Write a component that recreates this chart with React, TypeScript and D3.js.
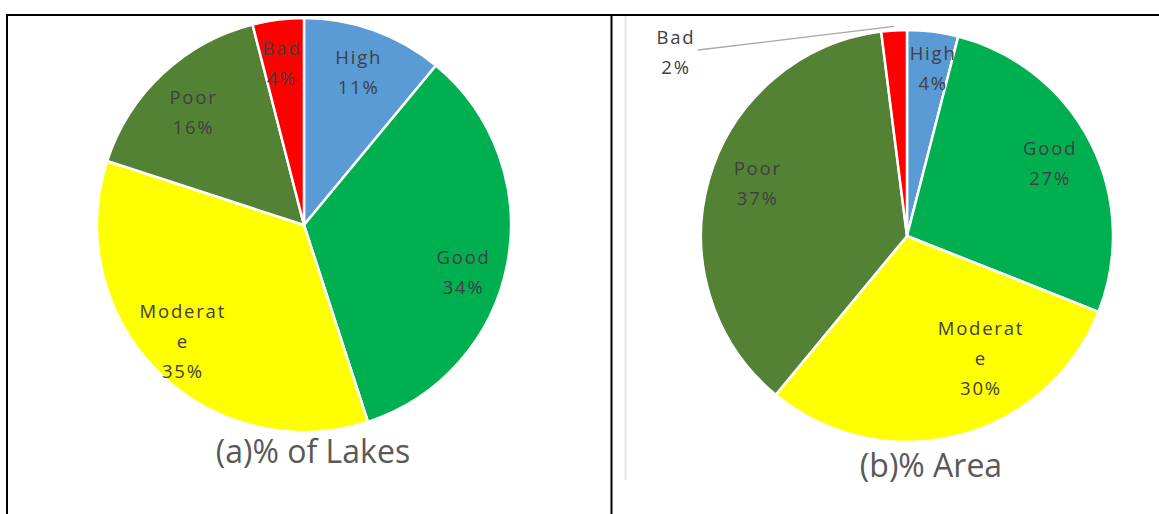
import React from "react";
import * as d3 from "d3";

const categories = ["High", "Good", "Moderate", "Poor", "Bad"];
const lakesValues = [11, 34, 35, 16, 4];
const areaValues = [4, 27, 30, 37, 2];
const colors = ["#5B9BD5", "#00B050", "#FFFF00", "#548235", "#FF0000"];
const titles = ["(a)% of Lakes", "(b)% Area"];

type ChartCfg = {
  values: number[];
  cx: number;
  cy: number;
  r: number;
  title: string;
  tx: number;
  ty: number;
  nudge: Record<string, [number, number]>;
  outside: string[];
};

const labelLines = (cat: string, v: number) =>
  cat === "Moderate" ? ["Moderat", "e", `${v}%`] : [cat, `${v}%`];

const FONT = "Open Sans, Noto Sans, sans-serif";
const LFS = 18.5;
const LSP = 1.8;

function Pie({ cfg }: { cfg: ChartCfg }) {
  const pie = d3.pie<number>().sort(null).value((d) => d);
  const arcs = pie(cfg.values);
  const arc = d3.arc<d3.PieArcDatum<number>>().innerRadius(0).outerRadius(cfg.r);
  const labelArc = d3
    .arc<d3.PieArcDatum<number>>()
    .innerRadius(cfg.r * 0.78)
    .outerRadius(cfg.r * 0.78);
  const lh = 30;
  return (
    <g>
      <g transform={`translate(${cfg.cx},${cfg.cy})`}>
        {arcs.map((a, i) => (
          <path key={i} d={arc(a) || ""} fill={colors[i]} stroke="#fff" strokeWidth={2.5} />
        ))}
        {arcs.map((a, i) => {
          const cat = categories[i];
          const lines = labelLines(cat, cfg.values[i]);
          if (cfg.outside.includes(cat)) {
            const mid = (a.startAngle + a.endAngle) / 2;
            const ex = Math.sin(mid) * (cfg.r - 4);
            const ey = -Math.cos(mid) * (cfg.r + 4);
            const [nx, ny] = cfg.nudge[cat];
            return (
              <g key={"l" + i}>
                <polyline
                  points={`${nx + 22},${ny + 6} ${ex},${ey}`}
                  fill="none"
                  stroke="#A6A6A6"
                  strokeWidth={1.3}
                />
                {lines.map((t, j) => (
                  <text
                    key={j}
                    x={nx}
                    y={ny + j * lh}
                    textAnchor="middle"
                    fontFamily={FONT}
                    fontSize={LFS}
                    letterSpacing={LSP}
                    fill="#404040"
                  >
                    {t}
                  </text>
                ))}
              </g>
            );
          }
          const [lx, ly] = labelArc.centroid(a);
          const [nx, ny] = cfg.nudge[cat] || [0, 0];
          const y0 = ly + ny - ((lines.length - 1) * lh) / 2;
          return (
            <g key={"l" + i}>
              {lines.map((t, j) => (
                <text
                  key={j}
                  x={lx + nx}
                  y={y0 + j * lh + 7}
                  textAnchor="middle"
                  fontFamily={FONT}
                  fontSize={LFS}
                  letterSpacing={LSP}
                  fill="#404040"
                >
                  {t}
                </text>
              ))}
            </g>
          );
        })}
      </g>
      <text
        x={cfg.tx}
        y={cfg.ty}
        textAnchor="middle"
        fontFamily={FONT}
        fontSize={32}
        fill="#595959"
      >
        {cfg.title}
      </text>
    </g>
  );
}

export default function App() {
  const charts: ChartCfg[] = [
    {
      values: lakesValues,
      cx: 304,
      cy: 225,
      r: 207,
      title: titles[0],
      tx: 313,
      ty: 463,
      nudge: { High: [0, -1], Bad: [-2, -2], Good: [1, 17], Poor: [0, 5], Moderate: [-7, 2] },
      outside: [],
    },
    {
      values: areaValues,
      cx: 907,
      cy: 236,
      r: 206,
      title: titles[1],
      tx: 931,
      ty: 477,
      nudge: { High: [6, -9], Poor: [5, -8], Moderate: [34, -34], Bad: [-231, -192] },
      outside: ["Bad"],
    },
  ];
  return (
    <svg
      width={1159}
      height={514}
      style={{ position: "absolute", left: 0, top: 0, background: "#fff" }}
    >
      <rect width={1159} height={514} fill="#fff" />
      <line x1={625.5} y1={16} x2={625.5} y2={480} stroke="#E8E8E8" strokeWidth={2} />
      {charts.map((c, i) => (
        <Pie key={i} cfg={c} />
      ))}
      <line x1={6} y1={15} x2={1159} y2={15} stroke="#000" strokeWidth={2} />
      <line x1={7} y1={14} x2={7} y2={514} stroke="#000" strokeWidth={2} />
      <line x1={611.5} y1={14} x2={611.5} y2={514} stroke="#000" strokeWidth={2} />
    </svg>
  );
}
